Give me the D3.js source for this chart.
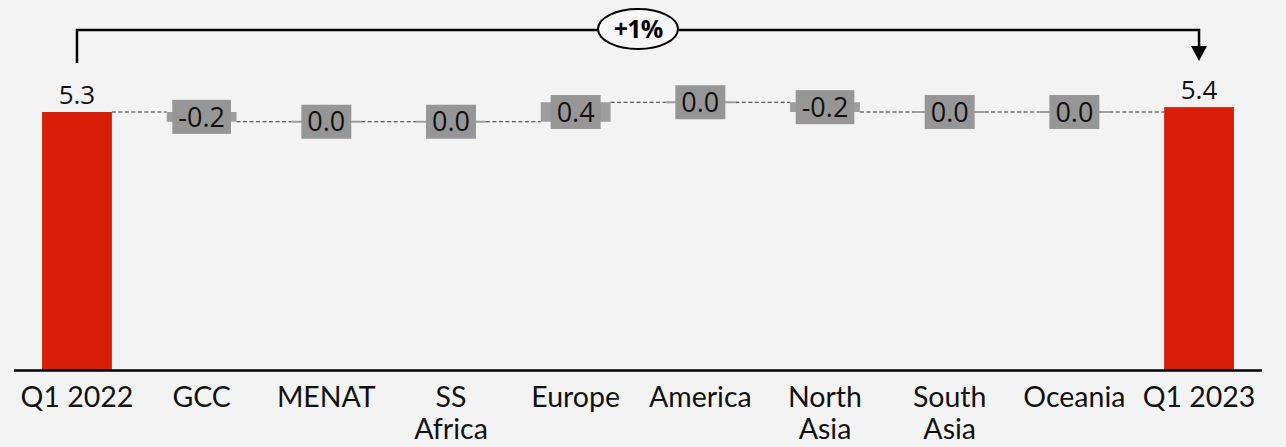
<!DOCTYPE html>
<html>
<head>
<meta charset="utf-8">
<script src="https://cdn.jsdelivr.net/npm/d3@7"></script>
<style>
  html, body { margin: 0; padding: 0; background: #f3f3f3; }
  svg { display: block; }
</style>
</head>
<body>
<svg id="chart" width="1286" height="447"></svg>
<script>
// Waterfall: Q1 2022 total, regional changes, Q1 2023 total
const categories = ["Q1 2022", "GCC", "MENAT", "SS Africa", "Europe", "America", "North Asia", "South Asia", "Oceania", "Q1 2023"];
const axisLabels = [["Q1 2022"], ["GCC"], ["MENAT"], ["SS", "Africa"], ["Europe"], ["America"], ["North", "Asia"], ["South", "Asia"], ["Oceania"], ["Q1 2023"]];
const startTotal = 5.3;
const endTotal = 5.4;
const changes = [-0.2, 0.0, 0.0, 0.4, 0.0, -0.2, 0.0, 0.0];
const growthLabel = "+1%";

const svg = d3.select("#chart");

const x = d3.scaleBand()
  .domain(categories)
  .range([14, 1262])
  .paddingInner(0.44)
  .paddingOuter(0.225);

const y = d3.scaleLinear()
  .domain([0, 5.3])
  .range([370, 112]);

// Build waterfall segments
const rows = [];
rows.push({ cat: categories[0], type: "total", v0: 0, v1: startTotal, value: startTotal });
let run = startTotal;
changes.forEach((d, i) => {
  rows.push({ cat: categories[i + 1], type: "delta", v0: run, v1: run + d, value: d });
  run += d;
});
rows.push({ cat: categories[categories.length - 1], type: "total", v0: 0, v1: endTotal, value: endTotal });

const bw = x.bandwidth();
// one decimal, plain hyphen for negatives
const fmt = v => d3.format(".1f")(v).replace("\u2212", "-");

// Connectors between consecutive bars
const conn = svg.append("g");
for (let i = 0; i < rows.length - 1; i++) {
  const level = rows[i].v1;
  conn.append("line")
    .attr("x1", x(rows[i].cat) + bw)
    .attr("x2", x(rows[i + 1].cat))
    .attr("y1", y(level))
    .attr("y2", y(level))
    .attr("stroke", "#333")
    .attr("stroke-width", 1.1)
    .attr("stroke-dasharray", "4,2.5");
}

// Bars
const bars = svg.append("g");
rows.forEach(r => {
  const top = y(Math.max(r.v0, r.v1));
  const bot = y(Math.min(r.v0, r.v1));
  const h = Math.max(bot - top, 2);
  bars.append("rect")
    .attr("x", x(r.cat))
    .attr("width", bw)
    .attr("y", r.type === "total" ? top : (top + bot) / 2 - h / 2)
    .attr("height", h)
    .attr("fill", r.type === "total" ? "#d91e07" : "#9d9d9d");
});

// Axis line
svg.append("line")
  .attr("x1", 14).attr("x2", 1262)
  .attr("y1", y(0) + 0.5).attr("y2", y(0) + 0.5)
  .attr("stroke", "#000").attr("stroke-width", 2.5);

// Category labels
const xl = svg.append("g")
  .attr("font-family", "Lato, 'Open Sans', sans-serif")
  .attr("font-size", 28.5)
  .attr("fill", "#111")
  .attr("text-anchor", "middle");
categories.forEach((c, i) => {
  const t = xl.append("text")
    .attr("x", x(c) + bw / 2)
    .attr("y", 407);
  axisLabels[i].forEach((line, j) => {
    t.append("tspan").attr("x", x(c) + bw / 2).attr("dy", j === 0 ? 0 : 32).text(line);
  });
});

// Value labels
const vl = svg.append("g")
  .attr("font-family", "'Open Sans', 'Noto Sans', sans-serif")
  .attr("fill", "#111");
rows.forEach(r => {
  const cx = x(r.cat) + bw / 2;
  if (r.type === "total") {
    vl.append("text")
      .attr("x", cx)
      .attr("y", y(r.v1) - 8)
      .attr("text-anchor", "middle")
      .attr("font-size", 26)
      .text(fmt(r.value));
  } else {
    const cy = (y(r.v0) + y(r.v1)) / 2;
    const g = vl.append("g");
    const rect = g.append("rect").attr("fill", "#969696");
    const t = g.append("text")
      .attr("x", cx)
      .attr("y", cy)
      .attr("dy", "0.36em")
      .attr("text-anchor", "middle")
      .attr("font-size", 27)
      .text(fmt(r.value));
    const tw = t.node().getComputedTextLength();
    rect.attr("x", cx - tw / 2 - 6)
      .attr("width", tw + 12)
      .attr("y", cy - 17)
      .attr("height", 34);
  }
});

// Growth bracket from the first total to the last
const xa = x(categories[0]) + bw / 2;
const xb = x(categories[categories.length - 1]) + bw / 2;
const yb = 30;
const br = svg.append("g");
br.append("path")
  .attr("d", `M${xa},63 V${yb} H${xb} V50`)
  .attr("fill", "none")
  .attr("stroke", "#000")
  .attr("stroke-width", 2.5);
br.append("path")
  .attr("d", `M${xb - 8},46 L${xb + 8},46 L${xb},61 Z`)
  .attr("fill", "#000");
const mid = (xa + xb) / 2;
br.append("ellipse")
  .attr("cx", mid).attr("cy", yb - 1)
  .attr("rx", 40).attr("ry", 20)
  .attr("fill", "#f7f7f7")
  .attr("stroke", "#000")
  .attr("stroke-width", 2);
br.append("text")
  .attr("x", mid).attr("y", yb - 1)
  .attr("dy", "0.36em")
  .attr("text-anchor", "middle")
  .attr("font-family", "'Open Sans', sans-serif")
  .attr("font-weight", "bold")
  .attr("font-size", 25)
  .attr("letter-spacing", -0.8)
  .attr("fill", "#000")
  .text(growthLabel);
</script>
</body>
</html>
